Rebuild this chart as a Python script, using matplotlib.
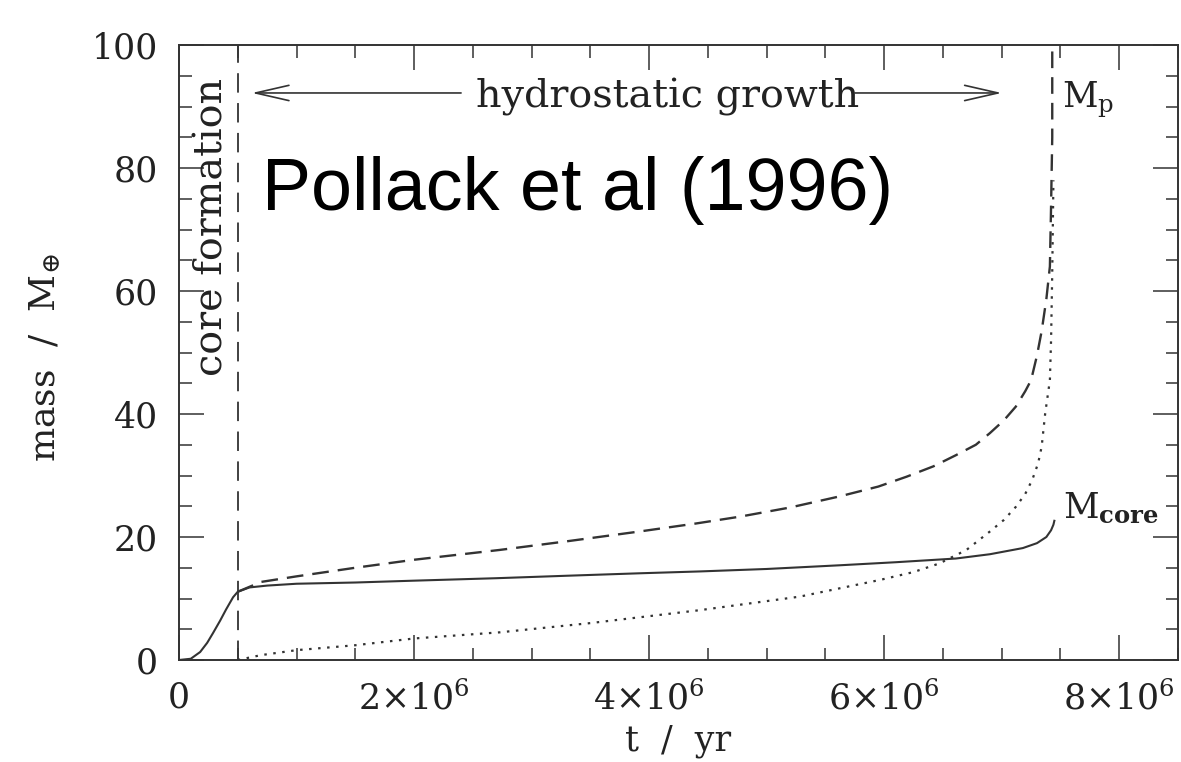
import matplotlib
matplotlib.use('Agg')
import matplotlib.pyplot as plt
import numpy as np
from matplotlib.ticker import MultipleLocator

# ---------------- data (time in units of 10^6 yr, mass in Earth masses) -------------
t_core = [0, 0.10, 0.18, 0.24, 0.29, 0.35, 0.40, 0.46, 0.50, 0.60, 0.75, 1.0, 1.5, 2.0,
          2.7, 3.3, 3.92, 4.43, 5.0, 5.62, 6.1, 6.61, 6.9, 7.18, 7.30, 7.38, 7.42, 7.44, 7.45]
m_core = [0, 0.2, 1.3, 2.8, 4.4, 6.4, 8.2, 10.2, 11.1, 11.8, 12.1, 12.4, 12.6, 12.9,
          13.3, 13.7, 14.1, 14.4, 14.8, 15.4, 15.9, 16.5, 17.2, 18.2, 19.0, 20.0, 21.1, 22.0, 22.8]

t_total = [0.50, 0.70, 1.0, 1.5, 2.0, 2.73, 3.3, 3.92, 4.4, 4.77, 5.2, 5.62, 5.95, 6.19,
           6.42, 6.61, 6.78, 6.90, 7.02, 7.12, 7.20, 7.25, 7.30, 7.34, 7.38, 7.41, 7.42,
           7.43, 7.43]
m_total = [11.1, 12.7, 13.6, 15.0, 16.3, 17.9, 19.3, 20.9, 22.2, 23.3, 24.8, 26.6, 28.2, 29.8,
           31.5, 33.3, 35.0, 36.9, 39.0, 41.2, 43.7, 45.5, 49.5, 53.5, 58.7, 64.0, 73.8,
           85.0, 101.0]

t_env = [0.50, 0.70, 1.0, 1.5, 2.0, 2.73, 3.5, 4.43, 5.28, 5.96, 6.25, 6.47, 6.70, 6.90,
         7.02, 7.12, 7.20, 7.26, 7.31, 7.34, 7.37, 7.41, 7.42, 7.43, 7.44]
m_env = [0.0, 0.8, 1.6, 2.4, 3.5, 4.5, 6.0, 8.1, 10.3, 13.0, 14.3, 15.7, 17.9, 20.9,
         22.8, 24.9, 27.0, 29.3, 32.0, 34.7, 40.1, 45.5, 52.0, 63.0, 78.0]

t_core_formation_end = 0.5

x_ticks = [0, 2e6, 4e6, 6e6, 8e6]
x_tick_labels = ['0', r'$2{\times}10^{6}$', r'$4{\times}10^{6}$', r'$6{\times}10^{6}$', r'$8{\times}10^{6}$']
y_ticks = [0, 20, 40, 60, 80, 100]
y_tick_labels = ['0', '20', '40', '60', '80', '100']

# ---------------- style ----------------
plt.rcParams['font.family'] = ['DejaVu Serif']
plt.rcParams['mathtext.fontset'] = 'dejavuserif'
plt.rcParams['lines.scale_dashes'] = False

ink = '#333333'
txt = '#222222'

fig = plt.figure(figsize=(11.81, 7.62), dpi=100)
ax = fig.add_axes([179 / 1181, 102 / 762, 999 / 1181, 615 / 762])

yr = 1e6
ax.plot(np.array(t_core) * yr, m_core, color=ink, lw=1.5, solid_capstyle='butt',
        solid_joinstyle='round')
ax.plot(np.array(t_total) * yr, m_total, color=ink, lw=1.7, dashes=(12, 6.5), dash_capstyle='butt')
ax.plot(np.array(t_env) * yr, m_env, color=ink, lw=1.6, dashes=(1.8, 4.7), dash_capstyle='butt')
ax.axvline(t_core_formation_end * yr, color=ink, lw=1.3, dashes=(14, 7.5), dash_capstyle='butt')

ax.set_xlim(0, 8.5e6)
ax.set_ylim(0, 100)
ax.set_xticks(x_ticks)
ax.set_xticklabels(x_tick_labels)
ax.set_yticks(y_ticks)
ax.set_yticklabels(y_tick_labels)
ax.xaxis.set_minor_locator(MultipleLocator(0.5e6))
ax.yaxis.set_minor_locator(MultipleLocator(5))

ax.tick_params(which='both', direction='in', top=True, right=True, color=ink, width=1.1,
               labelcolor=txt)
ax.tick_params(which='major', length=18, labelsize=25, pad=15)
ax.tick_params(which='minor', length=9)
for s in ax.spines.values():
    s.set_color(ink)
    s.set_linewidth(1.4)

ax.set_xlabel('t  /  yr', fontsize=25, color=txt)
ax.xaxis.set_label_coords(0.5, -0.104)
fig.text(45 / 1181, 1 - 358 / 762, r'mass  /  M$_{\oplus}$', rotation=90, ha='center', va='center',
         fontsize=26, color=txt)

# annotations
ax.text(0.28e6, 70.4, 'core formation', rotation=90, ha='center', va='center', fontsize=28.5, color=txt)
ax.text(4.16e6, 89.9, 'hydrostatic growth', ha='center', va='baseline', fontsize=28.5, color=txt)
arrow_kw = dict(arrowstyle='->,head_length=2.4,head_width=0.55', color=ink, lw=1.2,
                shrinkA=0, shrinkB=0, mutation_scale=10)
ax.annotate('', xy=(0.62e6, 92.2), xytext=(2.40e6, 92.2), arrowprops=arrow_kw)
ax.annotate('', xy=(7.0e6, 92.2), xytext=(5.75e6, 92.2), arrowprops=arrow_kw)

ax.text(0.71e6, 73.2, 'Pollack et al (1996)', family=['Liberation Sans', 'DejaVu Sans'],
        fontsize=53, color='black', ha='left', va='baseline')

ax.text(7.51e6, 89.9, r'$\mathrm{M}_{\mathrm{p}}$', fontsize=25, color=txt, ha='left', va='baseline')
ax.text(7.52e6, 23.1, r'$\mathrm{M}_{\mathbf{core}}$', fontsize=25, color=txt, ha='left', va='baseline')

fig.savefig('out.png', dpi=100)
